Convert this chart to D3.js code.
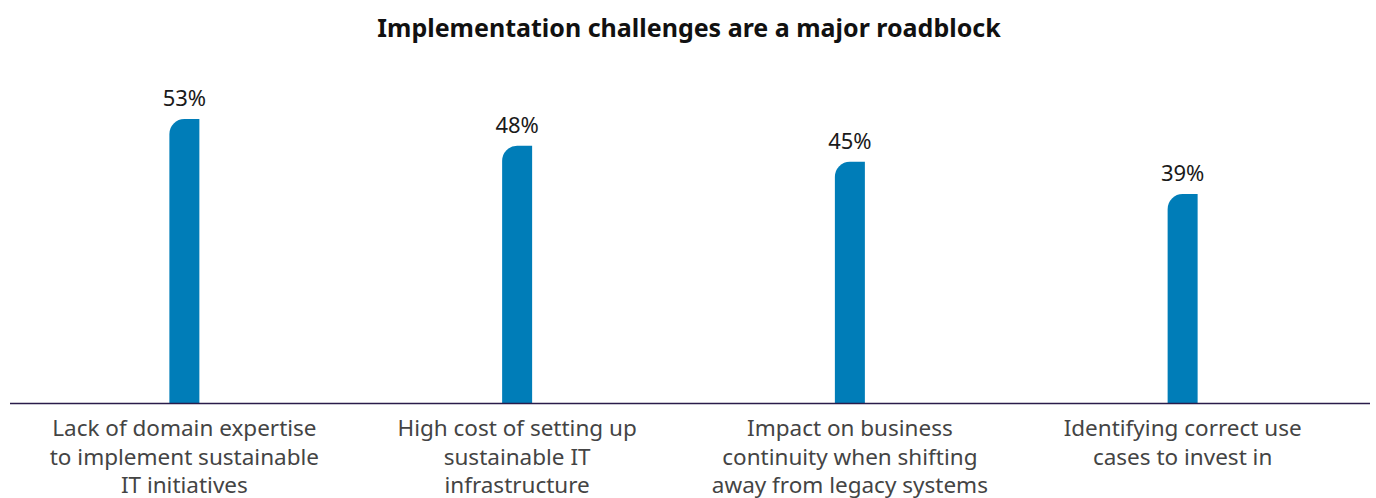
<!DOCTYPE html>
<html>
<head>
<meta charset="utf-8">
<script src="https://cdn.jsdelivr.net/npm/d3@7"></script>
<style>
  body { margin: 0; background: #fff; }
  svg { display: block; font-family: "Noto Sans", "Open Sans", sans-serif; }
</style>
</head>
<body>
<svg id="chart" width="1376" height="498"></svg>
<script>
// chart data
var categories = [
  ["Lack of domain expertise", "to implement sustainable", "IT initiatives"],
  ["High cost of setting up", "sustainable IT", "infrastructure"],
  ["Impact on business", "continuity when shifting", "away from legacy systems"],
  ["Identifying correct use", "cases to invest in"]
];
var values = [53, 48, 45, 39];
var valueLabels = ["53%", "48%", "45%", "39%"];

var svg = d3.select("#chart");
var baseY = 403;

var x = d3.scaleBand()
  .domain(d3.range(values.length))
  .range([18, 1349]);

var y = d3.scaleLinear()
  .domain([0, 53])
  .range([baseY, 119]);

var barW = 30;
var r = 15;

// title
svg.append("text")
  .attr("x", 689)
  .attr("y", 37)
  .attr("text-anchor", "middle")
  .attr("font-size", 25)
  .attr("font-weight", "bold")
  .attr("fill", "#111")
  .text("Implementation challenges are a major roadblock");

// bars with rounded top-left corner
svg.selectAll("path.bar")
  .data(values)
  .enter().append("path")
    .attr("class", "bar")
    .attr("fill", "#007db8")
    .attr("d", function(d, i) {
      var cx = x(i) + x.bandwidth() / 2;
      var x0 = cx - barW / 2, x1 = cx + barW / 2;
      var top = y(d);
      return "M" + x0 + "," + baseY +
        "L" + x0 + "," + (top + r) +
        "A" + r + "," + r + " 0 0 1 " + (x0 + r) + "," + top +
        "L" + x1 + "," + top +
        "L" + x1 + "," + baseY + "Z";
    });

// value labels
svg.selectAll("text.val")
  .data(values)
  .enter().append("text")
    .attr("class", "val")
    .attr("x", function(d, i) { return x(i) + x.bandwidth() / 2; })
    .attr("y", function(d) { return y(d) - 13; })
    .attr("text-anchor", "middle")
    .attr("font-size", 22)
    .attr("fill", "#1a1a1a")
    .text(function(d, i) { return valueLabels[i]; });

// baseline
svg.append("line")
  .attr("x1", 10).attr("x2", 1370)
  .attr("y1", baseY + 0.5).attr("y2", baseY + 0.5)
  .attr("stroke", "#2a1c4a")
  .attr("stroke-width", 1.5);

// category labels
var cat = svg.selectAll("text.cat")
  .data(categories)
  .enter().append("text")
    .attr("class", "cat")
    .attr("text-anchor", "middle")
    .attr("font-size", 22.5)
    .attr("fill", "#444");

cat.selectAll("tspan")
  .data(function(d, i) { return d.map(function(s) { return {s: s, i: i}; }); })
  .enter().append("tspan")
    .attr("x", function(d) { return x(d.i) + x.bandwidth() / 2; })
    .attr("y", function(d, j) { return 436 + j * 28.5; })
    .text(function(d) { return d.s; });
</script>
</body>
</html>
